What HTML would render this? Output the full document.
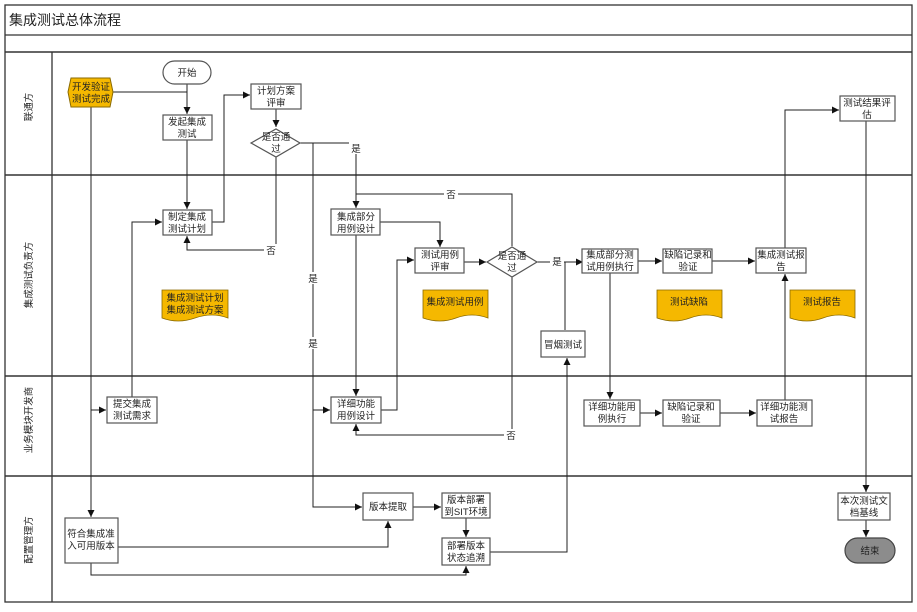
<!DOCTYPE html>
<html><head><meta charset="utf-8"><style>
html,body{margin:0;padding:0;background:#fff;}
svg text{font-family:"Liberation Sans","Noto Sans CJK SC",sans-serif;font-size:9.5px;fill:#222;}
</style></head><body>
<svg width="917" height="607" viewBox="0 0 917 607" xmlns="http://www.w3.org/2000/svg">
<defs>
<marker id="a" markerWidth="8" markerHeight="8" refX="7" refY="4" orient="auto" markerUnits="userSpaceOnUse">
<path d="M0,0.5 L7,4 L0,7.5 z" fill="#111"/></marker>
</defs>
<rect x="0" y="0" width="917" height="607" fill="#fff"/>
<g stroke="#333" fill="none" stroke-width="1.3">
<rect x="5" y="5" width="907" height="597"/>
<line x1="5" y1="35" x2="912" y2="35"/>
<line x1="5" y1="52" x2="912" y2="52" stroke-width="1.6"/>
<line x1="5" y1="175" x2="912" y2="175" stroke-width="1.5"/>
<line x1="5" y1="376" x2="912" y2="376" stroke-width="1.5"/>
<line x1="5" y1="476" x2="912" y2="476" stroke-width="1.5"/>
<line x1="52" y1="52" x2="52" y2="602"/>
</g>
<text x="9" y="25" style="font-size:14px">集成测试总体流程</text>
<g>
<text transform="translate(32,107) rotate(-90)" text-anchor="middle">联通方</text>
<text transform="translate(32,275) rotate(-90)" text-anchor="middle">集成测试负责方</text>
<text transform="translate(32,420) rotate(-90)" text-anchor="middle">业务模块开发商</text>
<text transform="translate(32,540) rotate(-90)" text-anchor="middle">配置管理方</text>
</g>

<g stroke="#222" fill="none" stroke-width="1">
<polyline points="113,92 187,92"/>
<line x1="187" y1="84" x2="187" y2="114" marker-end="url(#a)"/>
<line x1="91" y1="107" x2="91" y2="517" marker-end="url(#a)"/>
<line x1="91" y1="410" x2="106" y2="410" marker-end="url(#a)"/>
<polyline points="91,563 91,575 466,575 466,566" marker-end="url(#a)"/>
<polyline points="118,547 388,547 388,521" marker-end="url(#a)"/>
<line x1="413" y1="507" x2="441" y2="507" marker-end="url(#a)"/>
<line x1="466" y1="518" x2="466" y2="537" marker-end="url(#a)"/>
<polyline points="490,552 567,552 567,358" marker-end="url(#a)"/>
<polyline points="565,330 565,262 583,262" marker-end="url(#a)"/>
<line x1="537" y1="262" x2="565" y2="262"/>
<polyline points="132,397 132,222 162,222" marker-end="url(#a)"/>
<line x1="187" y1="140" x2="187" y2="209" marker-end="url(#a)"/>
<polyline points="212,222 224,222 224,95 250,95" marker-end="url(#a)"/>
<line x1="276" y1="109" x2="276" y2="127" marker-end="url(#a)"/>
<polyline points="276,157 276,250 187,250 187,236" marker-end="url(#a)"/>
<polyline points="300,143 356,143 356,208" marker-end="url(#a)"/>
<polyline points="313,143 313,507 362,507" marker-end="url(#a)"/>
<line x1="313" y1="410" x2="330" y2="410" marker-end="url(#a)"/>
<polyline points="380,222 440,222 440,247" marker-end="url(#a)"/>
<line x1="356" y1="235" x2="356" y2="396" marker-end="url(#a)"/>
<polyline points="381,410 397,410 397,260 414,260" marker-end="url(#a)"/>
<line x1="464" y1="262" x2="486" y2="262" marker-end="url(#a)"/>
<polyline points="512,246 512,194 356,194"/>
<polyline points="512,276 512,435 356,435 356,424" marker-end="url(#a)"/>
<line x1="610" y1="273" x2="610" y2="399" marker-end="url(#a)"/>
<line x1="638" y1="261" x2="662" y2="261" marker-end="url(#a)"/>
<line x1="712" y1="261" x2="755" y2="261" marker-end="url(#a)"/>
<line x1="640" y1="413" x2="662" y2="413" marker-end="url(#a)"/>
<line x1="720" y1="413" x2="756" y2="413" marker-end="url(#a)"/>
<line x1="785" y1="400" x2="785" y2="274" marker-end="url(#a)"/>
<polyline points="785,248 785,110 839,110" marker-end="url(#a)"/>
<line x1="866" y1="121" x2="866" y2="492" marker-end="url(#a)"/>
<line x1="866" y1="520" x2="866" y2="537" marker-end="url(#a)"/>
</g>
<g text-anchor="middle">
<rect x="264" y="244" width="14" height="12" fill="#fff"/><text x="271" y="254">否</text>
<rect x="349" y="142" width="14" height="12" fill="#fff"/><text x="356" y="152">是</text>
<rect x="306" y="272" width="14" height="12" fill="#fff"/><text x="313" y="282">是</text>
<rect x="306" y="337" width="14" height="12" fill="#fff"/><text x="313" y="347">是</text>
<rect x="444" y="188" width="14" height="12" fill="#fff"/><text x="451" y="198">否</text>
<rect x="550" y="255" width="14" height="12" fill="#fff"/><text x="557" y="265">是</text>
<rect x="504" y="429" width="14" height="12" fill="#fff"/><text x="511" y="439">否</text>
</g>

<g stroke="#555" fill="#fff" stroke-width="1.2">
<rect x="163" y="115" width="49" height="25"/>
<rect x="251" y="84" width="50" height="25"/>
<rect x="163" y="210" width="49" height="25"/>
<rect x="331" y="209" width="49" height="26"/>
<rect x="415" y="248" width="49" height="25"/>
<rect x="582" y="249" width="56" height="24"/>
<rect x="663" y="249" width="49" height="24"/>
<rect x="756" y="248" width="50" height="25"/>
<rect x="840" y="96" width="55" height="25"/>
<rect x="541" y="331" width="44" height="26"/>
<rect x="107" y="397" width="50" height="26"/>
<rect x="331" y="397" width="50" height="26"/>
<rect x="584" y="400" width="56" height="26"/>
<rect x="663" y="400" width="57" height="26"/>
<rect x="757" y="400" width="55" height="26"/>
<rect x="363" y="493" width="50" height="27"/>
<rect x="442" y="493" width="48" height="25"/>
<rect x="442" y="538" width="48" height="27"/>
<rect x="65" y="518" width="53" height="45"/>
<rect x="838" y="493" width="52" height="27"/>
<rect x="163" y="61" width="48" height="23" rx="11.5"/>
<polygon points="251,143 276,129 300,143 276,157"/>
<polygon points="487,262 512,247 537,262 512,277"/>
</g>
<rect x="845" y="538" width="50" height="25" rx="12.5" fill="#8c8c8c" stroke="#444" stroke-width="1.2"/>
<polygon points="71,78 110,78 113,92 110,107 71,107 68,92" fill="#f5b800" stroke="#8a6a00" stroke-width="1"/>
<g fill="#f5b800" stroke="#8a6a00" stroke-width="0.8">
<path d="M162,290 H228 V318 Q212,312 195,318 T162,318 Z"/>
<path d="M423,290 H488 V318 Q472,312 456,318 T423,318 Z"/>
<path d="M657,290 H722 V318 Q706,312 690,318 T657,318 Z"/>
<path d="M790,290 H855 V318 Q839,312 823,318 T790,318 Z"/>
</g>
<g text-anchor="middle">
<text x="187" y="76">开始</text>
<text x="187" y="125">发起集成</text><text x="187" y="137">测试</text>
<text x="276" y="94">计划方案</text><text x="276" y="106">评审</text>
<text x="276" y="140">是否通</text><text x="276" y="152">过</text>
<text x="187" y="220">制定集成</text><text x="187" y="232">测试计划</text>
<text x="356" y="220">集成部分</text><text x="356" y="232">用例设计</text>
<text x="440" y="258">测试用例</text><text x="440" y="270">评审</text>
<text x="512" y="259">是否通</text><text x="512" y="271">过</text>
<text x="610" y="258">集成部分测</text><text x="610" y="270">试用例执行</text>
<text x="688" y="258">缺陷记录和</text><text x="688" y="270">验证</text>
<text x="781" y="258">集成测试报</text><text x="781" y="270">告</text>
<text x="867" y="106">测试结果评</text><text x="867" y="118">估</text>
<text x="563" y="348">冒烟测试</text>
<text x="132" y="407">提交集成</text><text x="132" y="419">测试需求</text>
<text x="356" y="407">详细功能</text><text x="356" y="419">用例设计</text>
<text x="612" y="410">详细功能用</text><text x="612" y="422">例执行</text>
<text x="691" y="410">缺陷记录和</text><text x="691" y="422">验证</text>
<text x="784" y="410">详细功能测</text><text x="784" y="422">试报告</text>
<text x="388" y="510">版本提取</text>
<text x="466" y="503">版本部署</text><text x="466" y="515">到SIT环境</text>
<text x="466" y="549">部署版本</text><text x="466" y="561">状态追溯</text>
<text x="91" y="537">符合集成准</text><text x="91" y="549">入可用版本</text>
<text x="864" y="504">本次测试文</text><text x="864" y="516">档基线</text>
<text x="870" y="554">结束</text>
<text x="91" y="90">开发验证</text><text x="91" y="102">测试完成</text>
<text x="195" y="301">集成测试计划</text><text x="195" y="313">集成测试方案</text>
<text x="455" y="305">集成测试用例</text>
<text x="689" y="305">测试缺陷</text>
<text x="822" y="305">测试报告</text>
</g>
</svg>
</body></html>
